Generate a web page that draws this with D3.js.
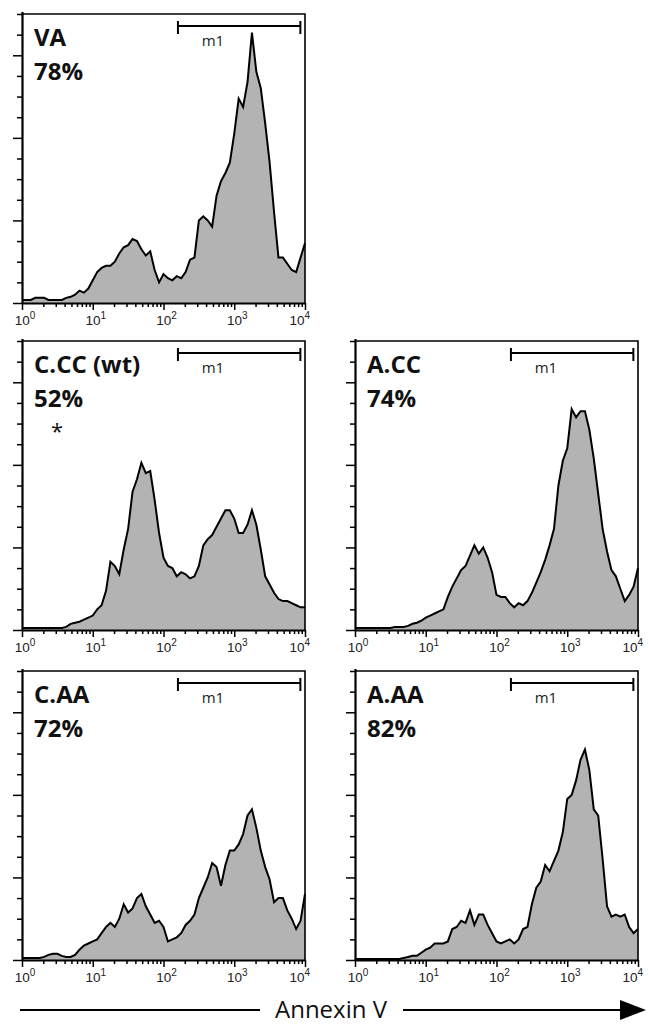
<!DOCTYPE html>
<html>
<head lang="en">
  <meta charset="UTF-8">
  <title>Annexin V histograms</title>
</head>
<style>
  body { margin: 0; background: #fff; }
  svg { display: block; }
  .frame { fill: none; stroke: #000; stroke-width: 1.6; }
  .hist-fill { fill: #b3b3b3; stroke: none; }
  .hist-line { fill: none; stroke: #000; stroke-width: 2; stroke-linejoin: miter; }
  .axis path { stroke: #000; stroke-width: 2.2; }
  .axis line { stroke: #000; stroke-width: 1.5; }
  .name, .pct { font-family: "Open Sans", sans-serif; font-weight: 700; font-size: 24px; fill: #111; }
  .star { font-family: "Open Sans", sans-serif; font-size: 22px; fill: #111; }
  .gate line { stroke: #000; stroke-width: 2; }
  .gate text { font-family: "Open Sans", sans-serif; font-size: 15px; fill: #222; }
  .decade { font-family: "Liberation Sans", Arial, sans-serif; font-size: 13.5px; fill: #222; }
  .xtitle { font-family: "Open Sans", sans-serif; font-size: 24px; fill: #111; }
</style>
<body>

<svg id="chart" width="649" height="1025"></svg>

<script src="https://cdnjs.cloudflare.com/ajax/libs/d3/7.8.5/d3.min.js"></script>
<script>
  // 65 channels, 16 per decade, from 10^0 to 10^4
  var channels = d3.range(65);
  var perDecade = 16;

  var names = ['VA', 'C.CC (wt)', 'A.CC', 'C.AA', 'A.AA'];
  var percents = ['78%', '52%', '74%', '72%', '82%'];
  var gate = [160, 8600];
  var decades = [1, 10, 100, 1000, 10000];

  var vaCounts = [1.5, 1.5, 1.5, 2.5, 2.5, 2.5, 1.5, 1.5, 1.5, 1.5, 2.5, 3, 4, 6, 5, 7,
    11, 15, 17, 18, 18, 20, 24, 27, 28, 31, 30, 26, 23, 25, 16, 10,
    14, 12, 11, 13, 12, 15, 21, 22, 40, 42, 40, 37, 52, 59, 63, 68,
    82, 99, 95, 107, 131, 112, 104, 87, 68, 44, 22, 22, 19, 16, 15, 22, 29];

  var cccCounts = [1, 1, 1, 1, 1, 1, 1, 1, 1, 1, 1.5, 3, 3.5, 4, 5, 6,
    7, 10, 12, 19, 33, 31, 27, 39, 49, 67, 73, 81, 76, 77, 63, 47,
    35, 31, 30, 26, 28, 27, 25, 26, 31, 41, 44, 46, 50, 54, 58, 58,
    54, 47, 47, 51, 58, 51, 39, 26, 22, 18, 15, 14, 14, 13, 12, 11, 11];

  var accCounts = [1, 1, 1, 1, 1, 1, 1, 1, 1, 1.5, 1.5, 1.5, 2, 3, 3.5, 4.5,
    6, 7, 8, 9, 10, 16, 21, 25, 29, 31, 36, 41, 37, 40, 35, 28,
    17, 16, 16, 13, 11, 13, 12, 14, 18, 23, 28, 34, 41, 49, 70, 82,
    88, 107, 103, 106, 106, 97, 83, 66, 49, 38, 29, 26, 20, 14, 17, 21, 30];

  var caaCounts = [1, 1, 1, 1, 1, 1.5, 2.5, 3, 3, 2, 1.5, 1.5, 2.5, 5, 7, 8,
    9, 10, 13, 16, 18, 16, 20, 27, 23, 25, 30, 32, 26, 22, 18, 19,
    16, 9, 10, 11, 13, 17, 19, 22, 30, 35, 40, 47, 45, 36, 46, 53,
    53, 56, 61, 70, 73, 64, 53, 45, 39, 28, 30, 30, 24, 20, 15, 19, 32];

  var aaaCounts = [0.5, 0.5, 0.5, 0.5, 0.5, 0.5, 0.5, 0.5, 0.5, 0.5, 0.5, 1, 1.5, 2, 2, 3.5,
    5, 6, 8, 8, 8, 9, 15, 16, 19, 18, 24, 17, 22, 22, 17, 13,
    9, 8, 9, 10, 8, 10, 15, 16, 27, 35, 38, 46, 43, 48, 53, 62,
    78, 80, 87, 97, 102, 92, 73, 70, 49, 26, 21, 22, 21, 22, 16, 13, 15];

  var series = [vaCounts, cccCounts, accCounts, caaCounts, aaaCounts];

  // layout (panel column / row)
  var place = [[0, 0], [0, 1], [1, 1], [0, 2], [1, 2]];
  var colX = [22, 355];
  var rowY = [14, 341, 671];
  var w = 283, h = 289;

  var svg = d3.select('#chart');

  var x = d3.scaleLog().domain([1, 10000]).range([0, w]);
  var y = d3.scaleLinear().domain([0, 140]).range([h, 0]);

  var xTicks = [];
  for (var d = 0; d < 4; d++) {
    for (var k = 1; k < 10; k++) xTicks.push(k * Math.pow(10, d));
  }
  xTicks.push(10000);

  series.forEach(function(counts, p) {
    var g = svg.append('g')
      .attr('transform', 'translate(' + colX[place[p][0]] + ',' + rowY[place[p][1]] + ')');

    var xOf = function(c) { return x(Math.pow(10, c / perDecade)); };

    g.append('path')
      .attr('class', 'hist-fill')
      .attr('d', d3.area().x(xOf).y0(h).y1(function(c) { return y(counts[c]); })(channels));

    g.append('path')
      .attr('class', 'hist-line')
      .attr('d', d3.line().x(xOf).y(function(c) { return y(counts[c]); })(channels));

    // top and right frame
    g.append('path')
      .attr('class', 'frame')
      .attr('d', 'M0,0H' + w + 'V' + h);

    // y axis: counts, no labels
    var ya = g.append('g').attr('class', 'axis')
      .call(d3.axisLeft(y).tickValues(d3.range(0, 141, 10)).tickFormat('').tickSizeOuter(0));
    ya.selectAll('.tick line')
      .attr('x2', function(v) { return v % 40 === 0 ? -9 : -5; });
    ya.select('.domain').attr('d', 'M0.5,' + h + 'V-2');

    // x axis: log decades
    var xa = g.append('g').attr('class', 'axis')
      .attr('transform', 'translate(0,' + h + ')')
      .call(d3.axisBottom(x).tickValues(xTicks).tickFormat('').tickSizeOuter(0));
    xa.selectAll('.tick line')
      .attr('y2', function(v) { return decades.indexOf(v) >= 0 ? 7 : 4; });

    var lab = xa.selectAll('.decade')
      .data(decades)
      .enter()
        .append('text')
        .attr('class', 'decade')
        .attr('text-anchor', function(v, i) { return i === decades.length - 1 ? 'end' : 'middle'; })
        .attr('x', function(v, i) { return i === decades.length - 1 ? x(v) + 5 : x(v) + 3; })
        .attr('y', 22);
    lab.append('tspan').text('10');
    lab.append('tspan')
      .attr('dy', -6)
      .attr('font-size', '10px')
      .text(function(v, i) { return i; });

    // m1 gate
    var gt = g.append('g').attr('class', 'gate');
    var gy = 12;
    gt.append('line')
      .attr('x1', x(gate[0])).attr('x2', x(gate[1]))
      .attr('y1', gy).attr('y2', gy);
    gt.selectAll('.cap')
      .data(gate)
      .enter()
        .append('line')
        .attr('x1', function(v) { return x(v); })
        .attr('x2', function(v) { return x(v); })
        .attr('y1', gy - 5).attr('y2', gy + 8);
    gt.append('text')
      .attr('x', x(gate[0]) + 35)
      .attr('y', 32)
      .attr('text-anchor', 'middle')
      .text('m1');

    g.append('text').attr('class', 'name')
      .attr('x', 12).attr('y', 32)
      .text(names[p]);
    g.append('text').attr('class', 'pct')
      .attr('x', 12).attr('y', 66)
      .text(percents[p]);

    if (p === 1) {
      g.append('text').attr('class', 'star')
        .attr('x', 35).attr('y', 98)
        .attr('text-anchor', 'middle')
        .text('*');
    }
  });

  // Annexin V arrow
  var ay = 1010;
  svg.append('line')
    .attr('x1', 20).attr('x2', 260).attr('y1', ay).attr('y2', ay)
    .attr('stroke', '#000').attr('stroke-width', 2);
  svg.append('line')
    .attr('x1', 403).attr('x2', 625).attr('y1', ay).attr('y2', ay)
    .attr('stroke', '#000').attr('stroke-width', 2);
  svg.append('path')
    .attr('d', 'M620,' + (ay - 10) + 'L646,' + ay + 'L620,' + (ay + 10) + 'Z')
    .attr('fill', '#000');
  svg.append('text')
    .attr('class', 'xtitle')
    .attr('x', 331).attr('y', ay + 8)
    .attr('text-anchor', 'middle')
    .text('Annexin V');
</script>
</body>
</html>
